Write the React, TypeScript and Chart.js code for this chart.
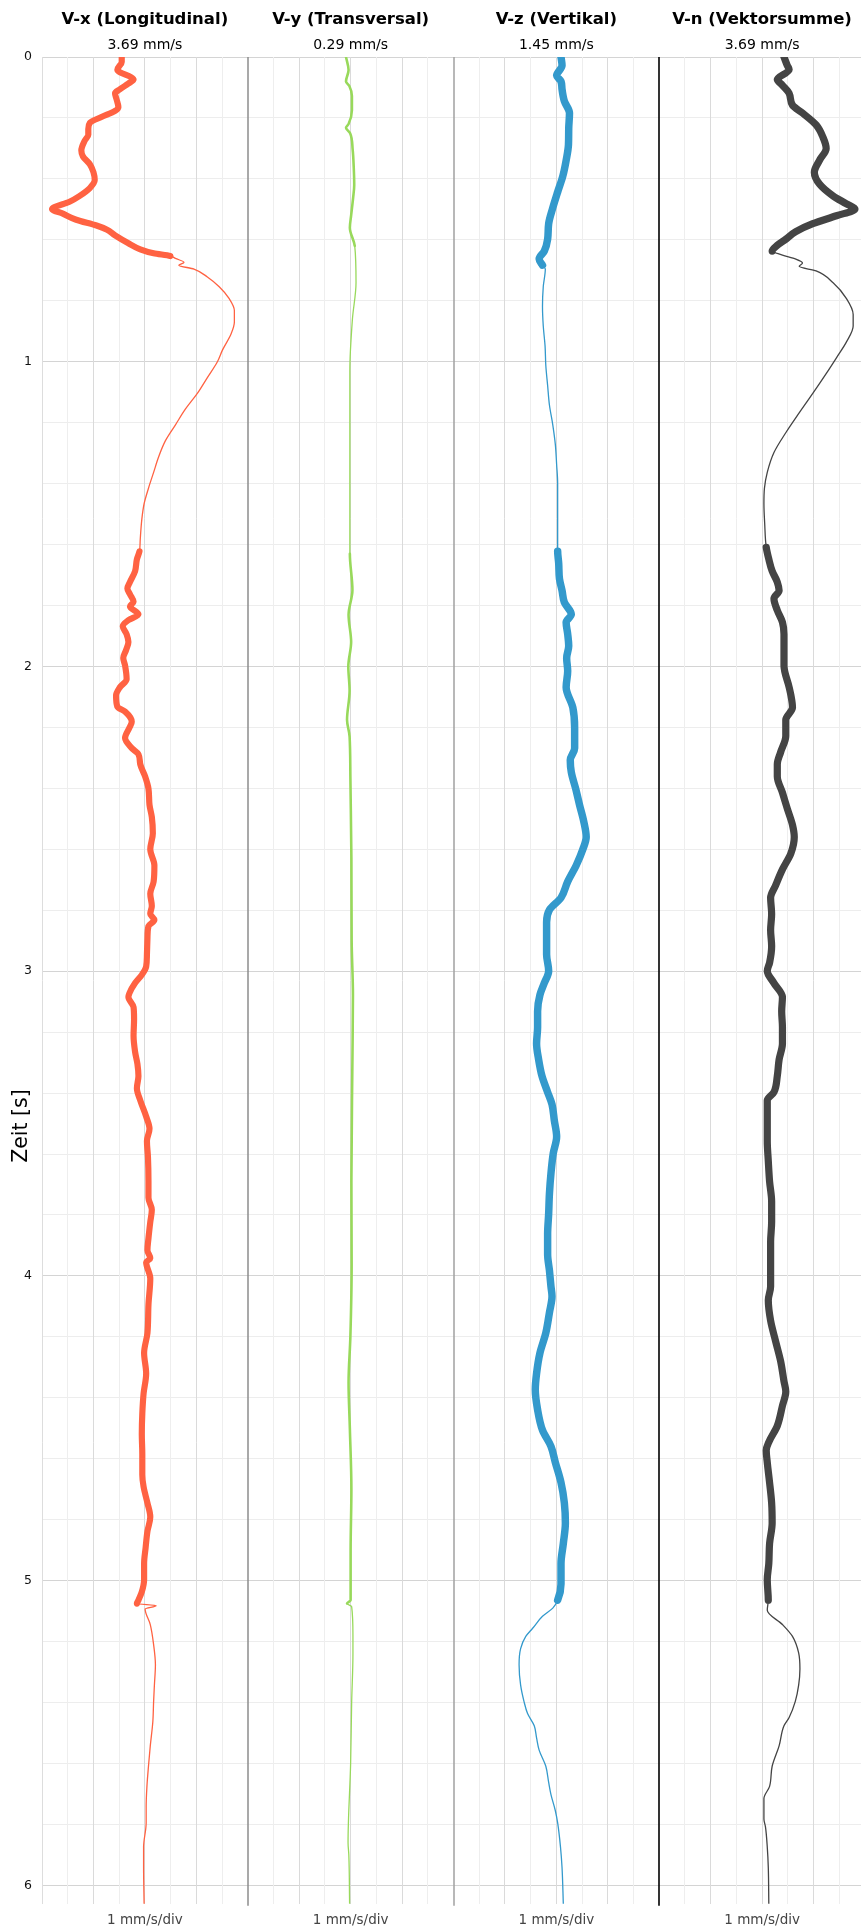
import React, { useEffect, useRef } from 'react';
import { Chart, registerables } from 'chart.js';

Chart.register(...registerables);

const FONT = "'DejaVu Sans', 'Liberation Sans', sans-serif";

// ---- texts ----
const panelTitles = ['V-x (Longitudinal)', 'V-y (Transversal)', 'V-z (Vertikal)', 'V-n (Vektorsumme)'];
const panelPeaks = ['3.69 mm/s', '0.29 mm/s', '1.45 mm/s', '3.69 mm/s'];
const scaleLabel = '1 mm/s/div';
const timeAxisTitle = 'Zeit [s]';

// ---- axes ----
const timeMajorTicks = [0, 1, 2, 3, 4, 5, 6];
const timeMinorStep = 0.2;
const timeMax = 6.06;
const divTicks = [-4, -3, -2, -1, 0, 1, 2, 3, 4];

// ---- V-x (Longitudinal), mm/s ----
const vxTime = [
  0.000, 0.016, 0.042, 0.074, 0.087, 0.106, 0.119, 0.139, 0.165, 0.177, 0.197, 0.216, 0.236, 0.255, 0.275,
  0.307, 0.326, 0.352, 0.378, 0.404, 0.430, 0.456, 0.475, 0.499, 0.514, 0.534, 0.553, 0.566, 0.585, 0.611,
  0.631, 0.644, 0.653, 0.661, 0.674, 0.683, 0.696, 0.722, 0.754, 0.793, 0.832, 0.870, 0.909, 0.961, 1.000,
  1.052, 1.104, 1.155, 1.207, 1.259, 1.311, 1.363, 1.415, 1.466, 1.518, 1.583, 1.622, 1.648, 1.687, 1.723,
  1.744, 1.763, 1.788, 1.803, 1.829, 1.848, 1.868, 1.894, 1.920, 1.946, 1.972, 1.997, 2.042, 2.068, 2.095,
  2.132, 2.148, 2.181, 2.201, 2.235, 2.268, 2.288, 2.321, 2.361, 2.401, 2.454, 2.494, 2.547, 2.600, 2.653,
  2.706, 2.746, 2.786, 2.812, 2.832, 2.852, 2.892, 2.945, 2.985, 3.012, 3.039, 3.072, 3.085, 3.118, 3.158,
  3.212, 3.265, 3.304, 3.344, 3.384, 3.424, 3.477, 3.517, 3.557, 3.610, 3.690, 3.743, 3.783, 3.823, 3.876,
  3.916, 3.942, 3.955, 4.008, 4.094, 4.187, 4.253, 4.320, 4.386, 4.452, 4.519, 4.585, 4.652, 4.692, 4.745,
  4.791, 4.838, 4.891, 4.944, 4.997, 5.037, 5.064, 5.075, 5.082, 5.093, 5.144, 5.210, 5.276, 5.343, 5.396,
  5.462, 5.542, 5.609, 5.675, 5.741, 5.795, 5.874, 5.940, 6.060,
];
const vxValue = [
  -0.90, -0.90, -1.07, -0.44, -0.64, -0.97, -1.16, -1.10, -1.03, -1.16, -1.69, -2.14, -2.20, -2.20, -2.34,
  -2.47, -2.41, -2.14, -2.00, -1.95, -2.14, -2.54, -2.93, -3.61, -3.19, -2.67, -1.88, -1.49, -1.16, -0.64,
  -0.18, 0.34, 0.99, 1.19, 1.52, 1.32, 1.91, 2.43, 2.89, 3.28, 3.48, 3.48, 3.35, 3.02, 2.82,
  2.43, 2.04, 1.58, 1.19, 0.80, 0.54, 0.34, 0.14, -0.03, -0.12, -0.18, -0.21, -0.31, -0.38, -0.58,
  -0.68, -0.58, -0.44, -0.58, -0.25, -0.64, -0.86, -0.71, -0.64, -0.73, -0.84, -0.77, -0.71, -0.97, -1.12,
  -1.07, -0.77, -0.51, -0.60, -0.77, -0.51, -0.25, -0.18, 0.01, 0.14, 0.18, 0.27, 0.31, 0.21, 0.37,
  0.34, 0.21, 0.27, 0.21, 0.37, 0.14, 0.10, 0.08, 0.05, -0.12, -0.38, -0.60, -0.64, -0.44, -0.42,
  -0.44, -0.38, -0.29, -0.25, -0.31, -0.18, 0.05, 0.18, 0.08, 0.12, 0.14, 0.14, 0.27, 0.21, 0.14,
  0.10, 0.21, 0.05, 0.21, 0.14, 0.10, -0.03, 0.05, -0.05, -0.10, -0.12, -0.10, -0.10, -0.05, 0.10,
  0.21, 0.10, 0.03, -0.03, -0.03, -0.12, -0.25, -0.31, 0.44, 0.01, 0.21, 0.34, 0.41, 0.37, 0.34,
  0.31, 0.21, 0.14, 0.08, 0.05, 0.05, -0.05, -0.05, -0.03,
];
// oscillation bands: [from s, to s, half amplitude mm/s]
const vxBands = [[0, 0.65, 0.095], [1.62, 5.07, 0.095]];

// ---- V-y (Transversal), mm/s ----
const vyTime = [
  0.000, 0.043, 0.080, 0.095, 0.128, 0.175, 0.220, 0.232, 0.250, 0.305, 0.360, 0.420, 0.460, 0.520, 0.560,
  0.620, 0.740, 0.860, 1.030, 1.430, 1.630, 1.750, 1.830, 1.920, 2.000, 2.080, 2.175, 2.230, 2.360, 2.630,
  2.900, 3.078, 3.290, 3.690, 3.960, 4.200, 4.350, 4.500, 4.700, 4.900, 5.064, 5.075, 5.085, 5.180, 5.240,
  5.400, 5.600, 5.860, 5.900, 6.060,
];
const vyValue = [
  -0.18, -0.08, -0.18, -0.05, 0.05, 0.05, -0.08, -0.18, -0.02, 0.08, 0.12, 0.14, 0.10, 0.02, -0.03,
  0.16, 0.21, 0.07, -0.03, -0.03, -0.03, 0.07, -0.08, 0.02, -0.09, -0.04, -0.14, -0.04, -0.01, 0.03,
  0.04, 0.09, 0.07, 0.03, 0.04, -0.01, -0.08, -0.03, 0.03, 0.00, 0.00, -0.14, 0.04, 0.09, 0.09,
  0.04, 0.00, -0.10, -0.07, -0.04,
];
const vyBands = [[0, 0.62, 0.025], [1.62, 5.07, 0.025]];

// ---- V-z (Vertikal), mm/s ----
const vzTime = [
  0.000, 0.028, 0.061, 0.080, 0.106, 0.145, 0.184, 0.236, 0.288, 0.339, 0.391, 0.443, 0.495, 0.547, 0.598,
  0.637, 0.663, 0.683, 0.696, 0.754, 0.819, 0.883, 0.948, 1.013, 1.078, 1.142, 1.207, 1.272, 1.337, 1.400,
  1.466, 1.531, 1.596, 1.622, 1.661, 1.712, 1.751, 1.790, 1.829, 1.855, 1.894, 1.933, 1.972, 2.015, 2.068,
  2.135, 2.201, 2.268, 2.307, 2.347, 2.401, 2.454, 2.507, 2.560, 2.600, 2.653, 2.706, 2.759, 2.799, 2.839,
  2.892, 2.945, 2.999, 3.039, 3.078, 3.131, 3.184, 3.237, 3.290, 3.344, 3.397, 3.437, 3.490, 3.543, 3.597,
  3.663, 3.730, 3.796, 3.862, 3.929, 3.982, 4.035, 4.067, 4.120, 4.187, 4.253, 4.320, 4.373, 4.439, 4.506,
  4.559, 4.612, 4.678, 4.745, 4.811, 4.878, 4.944, 5.011, 5.064, 5.090, 5.117, 5.157, 5.183, 5.223, 5.276,
  5.343, 5.396, 5.436, 5.476, 5.516, 5.556, 5.609, 5.662, 5.702, 5.755, 5.795, 5.874, 5.941, 6.060,
];
const vzValue = [
  0.18, 0.22, 0.01, 0.18, 0.22, 0.31, 0.51, 0.48, 0.47, 0.38, 0.25, 0.05, -0.14, -0.30, -0.34,
  -0.47, -0.67, -0.54, -0.43, -0.51, -0.54, -0.51, -0.44, -0.41, -0.34, -0.27, -0.14, -0.04, 0.01, 0.05,
  0.05, 0.05, 0.05, 0.05, 0.09, 0.12, 0.22, 0.31, 0.58, 0.38, 0.44, 0.48, 0.40, 0.44, 0.38,
  0.64, 0.71, 0.71, 0.54, 0.58, 0.75, 0.90, 1.06, 1.16, 1.03, 0.77, 0.44, 0.18, -0.27, -0.38,
  -0.38, -0.38, -0.30, -0.47, -0.64, -0.73, -0.73, -0.77, -0.69, -0.56, -0.34, -0.17, -0.08, 0.01, -0.12,
  -0.21, -0.27, -0.30, -0.34, -0.34, -0.27, -0.21, -0.17, -0.27, -0.41, -0.64, -0.77, -0.82, -0.73, -0.54,
  -0.21, -0.04, 0.18, 0.31, 0.35, 0.27, 0.18, 0.18, 0.05, -0.14, -0.54, -0.93, -1.19, -1.39, -1.45,
  -1.39, -1.26, -1.12, -0.86, -0.77, -0.67, -0.41, -0.30, -0.21, -0.04, 0.05, 0.16, 0.22, 0.27,
];
const vzBands = [[0, 0.68, 0.12], [1.62, 5.07, 0.12]];

// ---- V-n (Vektorsumme), mm/s ----
const vnTime = [
  0.000, 0.028, 0.041, 0.074, 0.093, 0.119, 0.158, 0.184, 0.223, 0.262, 0.300, 0.339, 0.378, 0.417, 0.456,
  0.482, 0.499, 0.521, 0.547, 0.573, 0.598, 0.618, 0.637, 0.650, 0.663, 0.676, 0.687, 0.702, 0.741, 0.793,
  0.845, 0.883, 0.935, 0.987, 1.039, 1.104, 1.168, 1.233, 1.298, 1.363, 1.415, 1.466, 1.531, 1.609, 1.648,
  1.687, 1.723, 1.751, 1.777, 1.816, 1.855, 1.894, 1.946, 1.997, 2.068, 2.095, 2.135, 2.175, 2.228, 2.281,
  2.321, 2.361, 2.414, 2.467, 2.520, 2.560, 2.613, 2.666, 2.719, 2.759, 2.812, 2.865, 2.918, 2.972, 2.999,
  3.039, 3.085, 3.131, 3.184, 3.237, 3.290, 3.344, 3.397, 3.424, 3.490, 3.556, 3.623, 3.690, 3.756, 3.823,
  3.889, 3.956, 4.035, 4.080, 4.147, 4.213, 4.280, 4.346, 4.379, 4.426, 4.492, 4.545, 4.572, 4.612, 4.678,
  4.745, 4.811, 4.878, 4.944, 4.997, 5.064, 5.097, 5.144, 5.183, 5.237, 5.290, 5.343, 5.396, 5.449, 5.476,
  5.542, 5.609, 5.675, 5.715, 5.782, 5.808, 5.874, 5.941, 6.060,
];
const vnValue = [
  0.85, 0.98, 1.05, 0.59, 0.79, 1.05, 1.18, 1.57, 2.10, 2.36, 2.49, 2.23, 2.03, 2.23, 2.76,
  3.28, 3.61, 2.89, 1.97, 1.31, 0.92, 0.59, 0.39, 0.79, 1.31, 1.57, 1.44, 2.10, 2.76, 3.28,
  3.54, 3.54, 3.28, 2.89, 2.49, 1.97, 1.44, 0.92, 0.46, 0.20, 0.09, 0.07, 0.10, 0.16, 0.26,
  0.39, 0.59, 0.66, 0.46, 0.59, 0.79, 0.85, 0.85, 0.85, 1.05, 1.12, 1.18, 0.92, 0.92, 0.72,
  0.59, 0.59, 0.79, 0.98, 1.18, 1.25, 1.12, 0.79, 0.52, 0.33, 0.37, 0.33, 0.37, 0.29, 0.20,
  0.46, 0.79, 0.76, 0.79, 0.79, 0.66, 0.59, 0.46, 0.20, 0.20, 0.20, 0.24, 0.29, 0.37, 0.37,
  0.33, 0.33, 0.33, 0.24, 0.33, 0.52, 0.72, 0.85, 0.92, 0.79, 0.59, 0.26, 0.16, 0.20, 0.29,
  0.37, 0.39, 0.29, 0.26, 0.20, 0.24, 0.20, 0.79, 1.18, 1.42, 1.47, 1.42, 1.29, 1.05, 0.85,
  0.66, 0.39, 0.29, 0.07, 0.07, 0.13, 0.20, 0.24, 0.26,
];
const vnBands = [[0, 0.64, 0.115], [1.62, 5.07, 0.115]];

const THIN = 1.3;

export default function App() {
  const ref = useRef<HTMLCanvasElement>(null);

  useEffect(() => {
    document.body.style.margin = '0';
    document.body.style.overflow = 'hidden';

    const channels = [
      { id: 'x1', time: vxTime, value: vxValue, bands: vxBands, color: '#ff6242' },
      { id: 'x2', time: vyTime, value: vyValue, bands: vyBands, color: '#98d95b' },
      { id: 'x3', time: vzTime, value: vzValue, bands: vzBands, color: '#3399cc' },
      { id: 'x4', time: vnTime, value: vnValue, bands: vnBands, color: '#444444' },
    ];

    const yTickValues: number[] = [];
    for (let i = 0; i * timeMinorStep <= timeMax + 1e-9; i++) {
      yTickValues.push(Math.round(i * timeMinorStep * 1000) / 1000);
    }
    const isMajorTime = (v: number) => timeMajorTicks.some((m) => Math.abs(m - v) < 1e-6);

    const xScale = (idx: number) => ({
      type: 'linear',
      position: 'bottom',
      stack: 'panels',
      stackWeight: 1,
      min: -4,
      max: 4,
      afterBuildTicks: (s: any) => {
        s.ticks = divTicks.map((v) => ({ value: v }));
      },
      afterFit: (s: any) => {
        s.height = 26.3;
      },
      ticks: { display: false },
      border: { display: false },
      grid: {
        drawTicks: false,
        lineWidth: 1,
        color: (c: any) => {
          const v = c.tick ? c.tick.value : 0;
          if (Math.abs(v) === 4) return idx === 0 && v === -4 ? '#dddddd' : 'rgba(0,0,0,0)';
          return v % 2 === 0 ? '#dadada' : '#eeeeee';
        },
      },
      title: {
        display: true,
        text: scaleLabel,
        color: '#444444',
        font: { family: FONT, size: 13.5 },
        padding: { top: 0, bottom: 1 },
      },
    });

    const panelPlugin = {
      id: 'panelDecor',
      beforeDatasetsDraw(chart: any) {
        const ctx = chart.ctx;
        const { top, bottom } = chart.chartArea;
        const bounds: [string, string, number][] = [
          ['x2', '#8c8c8c', 1.5],
          ['x3', '#a0a0a0', 1.5],
          ['x4', '#000000', 1.6],
        ];
        ctx.save();
        for (const [id, col, w] of bounds) {
          const x = Math.round(chart.scales[id].left);
          ctx.strokeStyle = col;
          ctx.lineWidth = w;
          ctx.beginPath();
          ctx.moveTo(x, top);
          ctx.lineTo(x, bottom + 2);
          ctx.stroke();
        }
        ctx.restore();
      },
      afterDraw(chart: any) {
        const ctx = chart.ctx;
        ctx.save();
        ctx.fillStyle = '#000';
        ctx.textAlign = 'center';
        ctx.textBaseline = 'alphabetic';
        channels.forEach((ch, i) => {
          const s = chart.scales[ch.id];
          const cx = (s.left + s.right) / 2;
          ctx.font = `bold 16.5px ${FONT}`;
          ctx.fillText(panelTitles[i], cx, 24.2);
          ctx.font = `14px ${FONT}`;
          ctx.fillText(panelPeaks[i], cx, 49.4);
        });
        ctx.translate(26.7, 1126);
        ctx.rotate(-Math.PI / 2);
        ctx.font = `20.5px ${FONT}`;
        ctx.fillText(timeAxisTitle, 0, 0);
        ctx.restore();
      },
    };

    const config: any = {
      type: 'line',
      data: {
        datasets: channels.map((ch) => ({
          label: ch.id,
          data: ch.time.map((t, i) => ({ x: ch.value[i], y: t })),
          xAxisID: ch.id,
          yAxisID: 'y',
          borderColor: ch.color,
          backgroundColor: ch.color,
          borderWidth: THIN,
          pointRadius: 0,
          fill: false,
          cubicInterpolationMode: 'monotone',
          borderCapStyle: 'round',
          borderJoinStyle: 'round',
          segment: {
            borderWidth: (c: any) => {
              const t = (c.p0.parsed.y + c.p1.parsed.y) / 2;
              const band = ch.bands.find((b) => t >= b[0] && t <= b[1]);
              if (!band) return THIN;
              const s = c.chart.scales[ch.id];
              const px = Math.abs(s.getPixelForValue(band[2]) - s.getPixelForValue(0));
              return THIN + 2 * px;
            },
          },
        })),
      },
      options: {
        animation: false,
        responsive: false,
        indexAxis: 'y',
        events: [],
        layout: { padding: { top: 57, left: 0, right: 1, bottom: 0 } },
        plugins: {
          legend: { display: false },
          tooltip: { enabled: false },
          title: { display: false },
        },
        scales: {
          y: {
            type: 'linear',
            position: 'left',
            reverse: true,
            min: 0,
            max: timeMax,
            afterBuildTicks: (s: any) => {
              s.ticks = yTickValues.map((v) => ({ value: v }));
            },
            afterFit: (s: any) => {
              s.width = 42;
            },
            ticks: {
              autoSkip: false,
              padding: 10,
              color: '#111111',
              font: { family: FONT, size: 12.5 },
              callback: (v: number) => (isMajorTime(v) ? String(Math.round(v)) : ''),
            },
            border: { display: false },
            grid: {
              drawTicks: false,
              lineWidth: 1,
              color: (c: any) => (c.tick && isMajorTime(c.tick.value) ? '#d4d4d4' : '#ededed'),
            },
          },
          x1: xScale(0),
          x2: xScale(1),
          x3: xScale(2),
          x4: xScale(3),
        },
      },
      plugins: [panelPlugin],
    };

    const chart = new Chart(ref.current as HTMLCanvasElement, config);
    return () => chart.destroy();
  }, []);

  return (
    <div style={{ width: 861, height: 1930, overflow: 'hidden', background: '#ffffff' }}>
      <canvas ref={ref} width={866} height={1930} style={{ display: 'block', width: 866, height: 1930 }} />
    </div>
  );
}
